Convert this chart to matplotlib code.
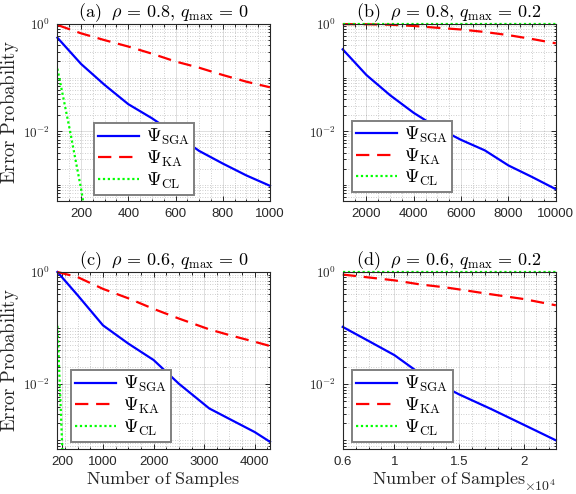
import matplotlib
matplotlib.use('Agg')
import matplotlib.pyplot as plt
import numpy as np
from matplotlib.ticker import FixedLocator, MultipleLocator, LogLocator, FuncFormatter, NullFormatter

plt.rcParams['font.family'] = ['Liberation Sans', 'DejaVu Sans']
plt.rcParams['mathtext.fontset'] = 'cm'

# (a) rho = 0.8, q_max = 0
samples_a = [100, 200, 300, 400, 500, 600, 700, 800, 900, 1000]
sga_a = [0.555, 0.18, 0.073, 0.032, 0.0175, 0.0088, 0.0043, 0.0025, 0.0015, 0.00096]
ka_a = [0.96, 0.67, 0.5, 0.38, 0.28, 0.2, 0.153, 0.112, 0.084, 0.066]
cl_samples_a = [100, 150, 200, 250]
cl_a = [0.147, 0.012, 0.00085, 0.00004]

# (b) rho = 0.8, q_max = 0.2
samples_b = [1000, 2000, 3000, 4000, 5000, 6000, 7000, 8000, 9000, 10000]
sga_b = [0.337, 0.112, 0.047, 0.022, 0.0116, 0.0069, 0.0044, 0.0023, 0.0014, 0.00083]
ka_b = [0.995, 0.99, 0.97, 0.92, 0.85, 0.79, 0.71, 0.62, 0.525, 0.436]
cl_samples_b = samples_b
cl_b = [1, 1, 1, 1, 1, 1, 1, 1, 1, 1]

# (c) rho = 0.6, q_max = 0
samples_c = [100, 500, 1000, 1500, 2000, 2500, 3100, 3500, 4000, 4300]
sga_c = [1.0, 0.385, 0.112, 0.053, 0.027, 0.0102, 0.0037, 0.0024, 0.0014, 0.00094]
ka_c = [1.0, 0.81, 0.5, 0.34, 0.22, 0.148, 0.095, 0.075, 0.057, 0.048]
cl_samples_c = [100, 200, 300]
cl_c = [0.11, 0.0006, 0.000003]

# (d) rho = 0.6, q_max = 0.2
samples_d = [6000, 8000, 10000, 12000, 14000, 15000, 17500, 20000, 22500]
sga_d = [0.105, 0.059, 0.033, 0.0154, 0.0087, 0.0066, 0.0036, 0.0019, 0.001]
ka_d = [0.9, 0.8, 0.71, 0.6, 0.53, 0.49, 0.4, 0.33, 0.255]
cl_samples_d = samples_d
cl_d = [1, 1, 1, 1, 1, 1, 1, 1, 1]

titles = [r'$\mathrm{(a)}\ \ \rho\,=\,0.8,\, q_{\mathrm{max}}\,=\,0$',
          r'$\mathrm{(b)}\ \ \rho\,=\,0.8,\, q_{\mathrm{max}}\,=\,0.2$',
          r'$\mathrm{(c)}\ \ \rho\,=\,0.6,\, q_{\mathrm{max}}\,=\,0$',
          r'$\mathrm{(d)}\ \ \rho\,=\,0.6,\, q_{\mathrm{max}}\,=\,0.2$']
labels = [r'$\Psi_{\mathrm{SGA}}$', r'$\Psi_{\mathrm{KA}}$', r'$\Psi_{\mathrm{CL}}$']

dark = '#262626'


def drawPanel(ax, x, sga, ka, xcl, cl, xlim, ylim, xticks, xminor, title, legpos):
    ax.set_yscale('log')
    ax.plot(x, sga, color='#0000ff', lw=1.6, label=labels[0],
            clip_on=min(sga) < ylim[0])
    ax.plot(x, ka, color='#ff0000', lw=1.6, ls=(0, (6, 3.5)), label=labels[1],
            clip_on=min(ka) < ylim[0])
    ax.plot(xcl, cl, color='#00ff00', lw=1.6, ls=(0, (1, 1.2)), label=labels[2],
            clip_on=min(cl) < ylim[0])
    ax.set_xlim(xlim)
    ax.set_ylim(ylim)
    ax.set_xticks(xticks)
    ax.xaxis.set_minor_locator(MultipleLocator(xminor))
    ax.yaxis.set_major_locator(FixedLocator([1e-2, 1]))
    ax.yaxis.set_major_formatter(FuncFormatter(
        lambda v, p: r'$\mathsf{10^{%d}}$' % round(np.log10(v))))
    ax.yaxis.set_minor_locator(LogLocator(base=10, subs=np.arange(1, 10), numticks=30))
    ax.yaxis.set_minor_formatter(NullFormatter())
    ax.grid(True, which='major', color=dark, alpha=0.15, lw=0.7, ls='-')
    ax.grid(True, which='minor', color=dark, alpha=0.3, lw=0.6, ls=(0, (1, 2)))
    ax.tick_params(which='both', direction='in', top=True, right=True,
                   color=dark, labelcolor=dark, labelsize=9.5, width=0.7)
    ax.tick_params(which='major', length=3.5, pad=5)
    ax.tick_params(which='minor', length=1.8)
    for s in ax.spines.values():
        s.set_color(dark)
        s.set_linewidth(0.8)
    ax.set_title(title, fontsize=13, pad=4, color='black')
    leg = ax.legend(loc='lower left', bbox_to_anchor=legpos, borderaxespad=0,
                    fontsize=13.5, fancybox=False, edgecolor='#808080', framealpha=1,
                    handlelength=2.2, handletextpad=0.35, labelspacing=0.08,
                    borderpad=0.22)
    leg.get_frame().set_linewidth(1.4)


fig = plt.figure(figsize=(5.76, 4.94), dpi=100)
axa = fig.add_axes([0.0997, 0.5931, 0.369, 0.3583])
axb = fig.add_axes([0.595, 0.5931, 0.370, 0.3583])
axc = fig.add_axes([0.0997, 0.0911, 0.369, 0.3583])
axd = fig.add_axes([0.595, 0.0911, 0.370, 0.3583])

drawPanel(axa, samples_a, sga_a, ka_a, cl_samples_a, cl_a, [100, 1000], [5e-4, 1],
          [200, 400, 600, 800, 1000], 50, titles[0], (0.172, 0.034))
drawPanel(axb, samples_b, sga_b, ka_b, cl_samples_b, cl_b, [1000, 10000], [5e-4, 1],
          [2000, 4000, 6000, 8000, 10000], 500, titles[1], (0.042, 0.049))
drawPanel(axc, samples_c, sga_c, ka_c, cl_samples_c, cl_c, [100, 4300], [7e-4, 1],
          [200, 1000, 2000, 3000, 4000], 250, titles[2], (0.063, 0.04))
drawPanel(axd, samples_d, sga_d, ka_d, cl_samples_d, cl_d, [6000, 22500], [7e-4, 1],
          [6000, 10000, 15000, 20000], 1000, titles[3], (0.044, 0.04))
axd.set_xticklabels(['0.6', '1', '1.5', '2'])
axd.text(1.0, -0.21, r'$\times\mathsf{10^{4}}$', transform=axd.transAxes,
         ha='right', va='center', fontsize=10, color=dark)

for ax in [axc, axd]:
    ax.set_xlabel(r'$\mathrm{Number\ of\ Samples}$', fontsize=13, labelpad=1, color=dark)

for yc in [0.5931 + 0.3583 / 2, 0.0911 + 0.3583 / 2]:
    fig.text(0.018, yc, r'$\mathrm{Error\ Probability}$', rotation=90,
             ha='center', va='center', fontsize=13.5, color=dark)

fig.savefig('out.png', dpi=100)
